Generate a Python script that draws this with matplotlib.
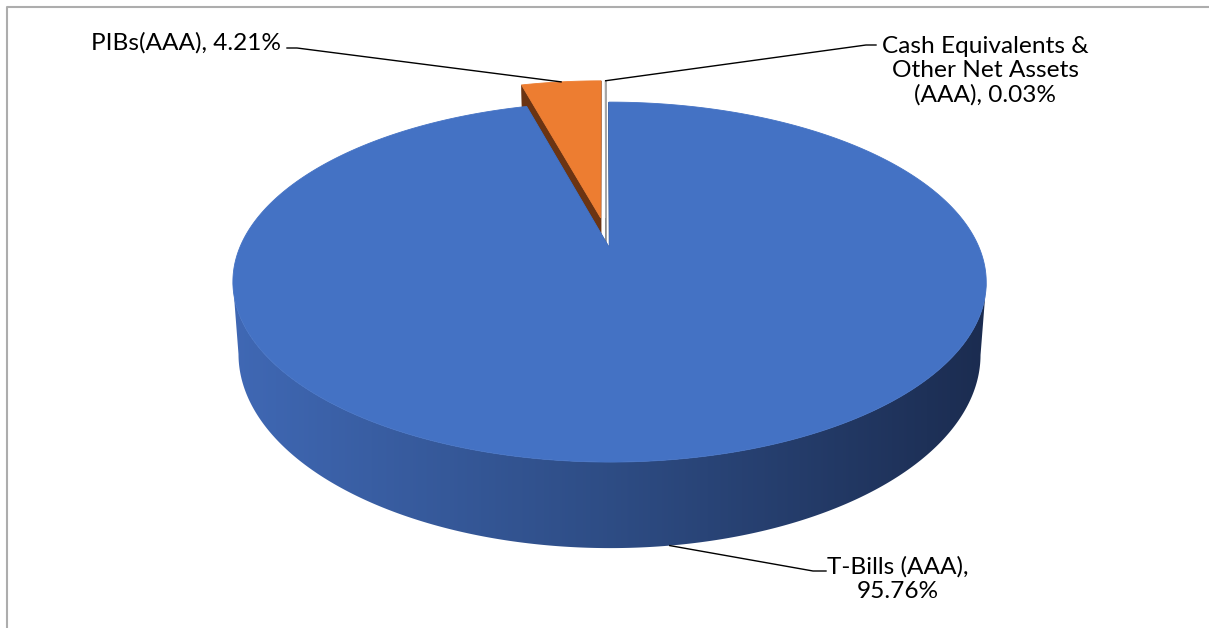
import numpy as np
import matplotlib.pyplot as plt
from matplotlib.patches import Polygon
from matplotlib.lines import Line2D

names = ['T-Bills (AAA)', 'PIBs(AAA)', 'Cash Equivalents &\nOther Net Assets\n(AAA)']
shares = [95.76, 4.21, 0.03]
explode = [0.07, 0.11, 0.11]
top_colors = ['#4472C4', '#ED7D31', '#A5A5A5']
cut_colors = ['#2B4A82', '#6B3413', '#8C8C8C']
label_text = [f'{names[0]},\n{shares[0]:.2f}%',
              f'{names[1]}, {shares[1]:.2f}%',
              f'{names[2]}, {shares[2]:.2f}%']

W, H = 1209, 628
fig = plt.figure(figsize=(W / 100, H / 100), dpi=100)
ax = fig.add_axes([0, 0, 1, 1])

# simple perspective for the tilted disk (pixel units)
cx, cy = 606, 236
kx, ky, p, depth, q = 365, 169, 0.1875, 68.8, 0.015


def proj(X, u, z=0.0):
    X = np.asarray(X, float)
    u = np.asarray(u, float)
    z = np.asarray(z, float)
    s = 1 + p * u
    return cx + kx * X / s * (1 - q * z), cy - ky * u / s + depth * z / s


# colour of the side wall of the big slice, left -> right
wall_stops = np.array([[0.25, 0.41, 0.71], [0.18, 0.30, 0.52], [0.105, 0.17, 0.31]])

total = sum(shares)
bounds = np.cumsum([0] + shares) / total * 2 * np.pi
slices = []
for i in range(len(shares)):
    a0, a1 = bounds[i], bounds[i + 1]
    mid = (a0 + a1) / 2
    dX, du = explode[i] * np.sin(mid), explode[i] * np.cos(mid)
    slices.append((a0, a1, mid, dX, du))


def draw_slice(i, shaded_wall=False):
    a0, a1, mid, dX, du = slices[i]
    n = max(3, int((a1 - a0) / (2 * np.pi) * 1440))
    phi = np.linspace(a0, a1, n)
    X, u = dX + np.sin(phi), du + np.cos(phi)
    # cut faces
    for a in (a1, a0):
        xs, ys = proj([dX, dX + np.sin(a), dX + np.sin(a), dX],
                      [du, du + np.cos(a), du + np.cos(a), du], [0, 0, 1, 1])
        ax.add_patch(Polygon(np.c_[xs, ys], closed=True, fc=cut_colors[i],
                             ec=cut_colors[i], lw=0.5))
    # outer wall: front part between the left and right silhouette points
    xt_all, _ = proj(X, u, 0)
    front = np.cos(phi) <= 0.35
    if front.sum() > 1:
        idx = np.where(front)[0]
        jr = idx[np.argmax(xt_all[idx])]
        jl = idx[np.argmin(xt_all[idx])]
        lo, hi = min(jr, jl), max(jr, jl)
        wX, wu = X[lo:hi + 1], u[lo:hi + 1]
        xt, yt = proj(wX, wu, 0)
        xb, yb = proj(wX, wu, 1)
        verts = np.r_[np.c_[xt, yt], np.c_[xb, yb][::-1]]
        if shaded_wall:
            wall = Polygon(verts, closed=True, fc='none', ec='none')
            ax.add_patch(wall)
            xmin, xmax = xt.min(), xt.max()
            t = np.linspace(0, 1, 900)
            grad = np.array([np.interp(t, [0, 0.5, 1], wall_stops[:, k]) for k in range(3)]).T
            grad = np.repeat(grad[None, :, :], 4, axis=0)
            im = ax.imshow(grad, extent=[xmin - 5, xmax + 5, yb.max() + 20, yt.min() - 20],
                           aspect='auto', interpolation='nearest', zorder=0.5)
            im.set_clip_path(wall)
        else:
            ax.add_patch(Polygon(verts, closed=True, fc=cut_colors[i], ec=cut_colors[i], lw=0.5))
    # top face
    xs, ys = proj(np.r_[dX, X], np.r_[du, u], 0)
    ax.add_patch(Polygon(np.c_[xs, ys], closed=True, fc=top_colors[i],
                         ec=top_colors[i], lw=0.6 if i < 2 else 1.0, zorder=1 + 0.1 * (i == 0)))


draw_slice(1)
draw_slice(2)
draw_slice(0, shaded_wall=True)

# leader lines and labels
font = dict(family='Lato', fontsize=17.6, color='black')

a0, a1, mid, dX, du = slices[0]
ax0, ay0 = proj(dX + np.sin(mid), du + np.cos(mid), 1)
ax.add_line(Line2D([ax0, 813, 826], [ay0, 571, 571], color='black', lw=1, zorder=3))
ax.text(898, 579, label_text[0], ha='center', va='center', linespacing=1.17, **font)

a0, a1, mid, dX, du = slices[1]
ax1, ay1 = proj(dX + np.sin(mid), du + np.cos(mid), 0)
ax.add_line(Line2D([ax1, 297, 287], [ay1, 48, 48], color='black', lw=1, zorder=3))
ax.text(281, 43, label_text[1], ha='right', va='center', **font)

a0, a1, mid, dX, du = slices[2]
ax2, ay2 = proj(dX + np.sin(mid), du + np.cos(mid), 0)
ax.add_line(Line2D([ax2, 866, 876], [ay2, 45, 45], color='black', lw=1, zorder=3))
ax.text(985, 71, label_text[2], ha='center', va='center', linespacing=1.17, **font)

# chart area border (top and left visible)
ax.add_line(Line2D([7, 7, W], [H, 7, 7], color='#ADADAD', lw=1.5))

ax.set_xlim(0, W)
ax.set_ylim(H, 0)
ax.axis('off')
fig.savefig('out.png', dpi=100)
